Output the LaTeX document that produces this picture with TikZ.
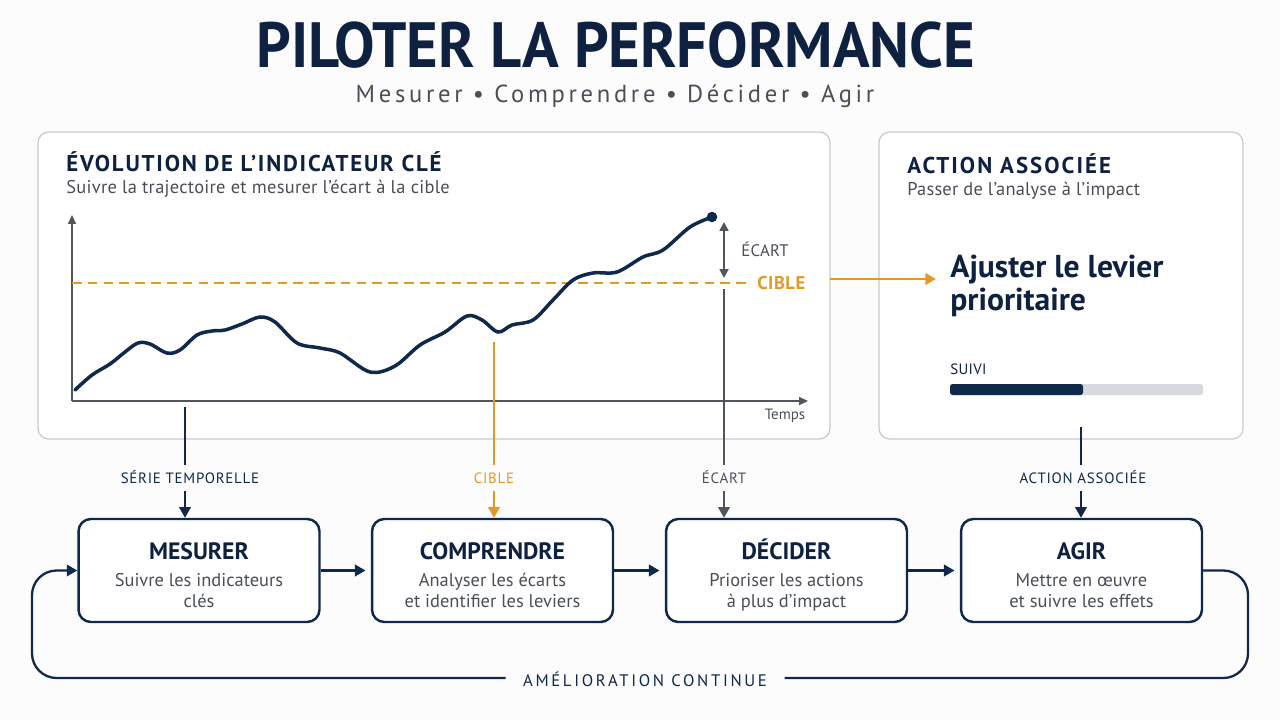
\documentclass[tikz,border=0pt]{standalone}
\usepackage{fontspec}
\setmainfont{PT Sans}
\usepackage{graphicx}
\usetikzlibrary{arrows.meta}
\definecolor{navy}{HTML}{10284A}
\definecolor{ink}{HTML}{0E2140}
\definecolor{txtgray}{HTML}{4A4F57}
\definecolor{axisgray}{HTML}{50565E}
\definecolor{cibleorange}{HTML}{E19A26}
\definecolor{panelline}{HTML}{C6CAD0}
\definecolor{bargray}{HTML}{D6D9DE}
\definecolor{bgwhite}{HTML}{FCFCFD}

\begin{document}
\begin{tikzpicture}[x=0.02cm, y=-0.02cm]
        \tikzstyle{panel} = [draw=panelline, line width=0.7pt, rounded corners=6pt, fill=white, inner sep=0pt, minimum height=6.14cm]
        \tikzstyle{stage} = [draw=navy, line width=1.4pt, rounded corners=7pt, fill=white, minimum width=4.82cm, minimum height=2.06cm, inner sep=0pt]
        \tikzstyle{stagetext} = [align=center, text=txtgray, font=\fontsize{10.5}{11.5}\selectfont]
        \tikzstyle{tag} = [font=\fontsize{8.5}{9}\selectfont\addfontfeature{LetterSpace=5}, inner sep=0pt, outer ysep=4.5pt, text height=6pt, text depth=0pt]
        \tikzstyle{flow} = [draw=navy, line width=1.3pt, -{Triangle[length=6pt,width=6.5pt]}]
        \newcommand{\stagetitle}[1]{{\fontsize{13.5}{16}\selectfont\bfseries\color{ink}#1}\\[4pt]}

        \fill[bgwhite] (0,0) rectangle (1280,720);
        \useasboundingbox (0,0) rectangle (1280,720);

        \node(title)[text=ink] at (616,45) {\resizebox{409pt}{26pt}{\bfseries PILOTER LA PERFORMANCE}};
        \node(subtitle)[text=txtgray, font=\fontsize{14}{16}\selectfont\addfontfeature{LetterSpace=15}] at (615,96) {Mesurer • Comprendre • Décider • Agir};

        \node(chart panel)[panel, minimum width=15.84cm] at (434,285.5) {};
        \node(chart title)[anchor=west, text=ink, font=\fontsize{13}{15}\selectfont\bfseries\addfontfeature{LetterSpace=8}, inner sep=0pt] at (66,162) {ÉVOLUTION DE L’INDICATEUR CLÉ};
        \node(chart sub)[anchor=west, text=txtgray, font=\fontsize{10.5}{12}\selectfont\addfontfeature{LetterSpace=1.5}, inner sep=0pt] at (66,189) {Suivre la trajectoire et mesurer l’écart à la cible};

        \coordinate(origin) at (72,401);
        \coordinate(ytop) at (72,215);
        \coordinate(xend) at (808,401);
        \draw[axisgray, line width=0.9pt, -{Triangle[length=5pt,width=4.5pt]}] (origin) -- (ytop);
        \draw[axisgray, line width=0.9pt, -{Triangle[length=5pt,width=4.5pt]}] (origin) -- (xend);
        \node(temps)[text=txtgray, font=\fontsize{8.5}{10}\selectfont] at (785,416) {Temps};

        \coordinate(cible start) at (72,283);
        \node(cible)[anchor=west, text=cibleorange, font=\fontsize{10.5}{12}\selectfont\bfseries\addfontfeature{LetterSpace=3}, inner sep=0pt] at (757,283) {CIBLE};
        \draw[cibleorange, line width=1.3pt, dash pattern=on 5.5pt off 3.5pt] (cible start) -- (748,283);

        \draw[navy, line width=2pt, line cap=round] plot[smooth, tension=0.55] coordinates {
            (75,390) (92,375) (110,364) (125,352) (138,343) (150,344) (167,353) (180,350)
            (197,335) (212,331) (225,330) (242,324) (260,317) (275,322) (297,343) (320,348)
            (340,353) (370,372) (395,366) (420,345) (445,332) (467,316) (482,320) (498,332)
            (512,325) (533,320) (553,300) (573,280) (593,273) (617,272) (643,257) (663,250)
            (690,227) (712,217)};
        \node(last)[circle, fill=navy, inner sep=0pt, minimum size=6pt] at (712,217) {};

        \coordinate(ecart top) at (724,222);
        \coordinate(ecart bot) at (724,278);
        \draw[axisgray, line width=1.1pt, {Triangle[length=5pt,width=5pt]}-{Triangle[length=5pt,width=5pt]}] (ecart top) -- (ecart bot);
        \node(ecart)[anchor=west, text=txtgray, font=\fontsize{9.5}{11}\selectfont\addfontfeature{LetterSpace=2}, inner sep=0pt] at (741,249) {ÉCART};

        \node(action panel)[panel, minimum width=7.28cm] at (1061,285.5) {};
        \node(action title)[anchor=west, text=ink, font=\fontsize{13}{15}\selectfont\bfseries\addfontfeature{LetterSpace=9}, inner sep=0pt] at (907,164) {ACTION ASSOCIÉE};
        \node(action sub)[anchor=west, text=txtgray, font=\fontsize{10.5}{12}\selectfont\addfontfeature{LetterSpace=1}, inner sep=0pt] at (907,191) {Passer de l’analyse à l’impact};
        \node(levier)[anchor=west, align=left, text=ink, font=\fontsize{18}{19}\selectfont\bfseries, inner sep=0pt] at (950,286) {Ajuster le levier\\prioritaire};
        \node(suivi)[anchor=west, text=ink, font=\fontsize{8.5}{10}\selectfont\addfontfeature{LetterSpace=2}, inner sep=0pt] at (950,369) {SUIVI};
        \fill[bargray, rounded corners=1.5pt] (950,384) rectangle (1203,395);
        \fill[navy, rounded corners=1.5pt] (950,384) rectangle (1083,395);

        \coordinate(cible out) at (830,279);
        \draw[cibleorange, line width=1.3pt, -{Triangle[length=6pt,width=6.5pt]}, shorten >=8pt] (cible out) -- (levier.west |- cible out);

        \node(mesurer)[stage] at (199,570.5) {};
        \node(mesurer txt)[stagetext] at (199,575) {\stagetitle{MESURER}Suivre les indicateurs\\clés};
        \node(comprendre)[stage] at (492.5,570.5) {};
        \node(comprendre txt)[stagetext] at (492.5,575) {\stagetitle{COMPRENDRE}Analyser les écarts\\et identifier les leviers};
        \node(decider)[stage] at (786.5,570.5) {};
        \node(decider txt)[stagetext] at (786.5,575) {\stagetitle{DÉCIDER}Prioriser les actions\\à plus d’impact};
        \node(agir)[stage] at (1081.5,570.5) {};
        \node(agir txt)[stagetext] at (1081.5,575) {\stagetitle{AGIR}Mettre en œuvre\\et suivre les effets};
        \draw[flow, shorten >=3pt] (mesurer) -- (comprendre);
        \draw[flow, shorten >=3pt] (comprendre) -- (decider);
        \draw[flow, shorten >=3pt] (decider) -- (agir);

        \coordinate(serie top) at (185,407);
        \node(serie)[tag, text=navy] at (190,478) {SÉRIE TEMPORELLE};
        \draw[navy, line width=1.2pt] (serie top) -- (serie top |- serie.north);
        \draw[flow, line width=1.2pt] (serie top |- serie.south) -- (serie top |- mesurer.north);

        \coordinate(cible top) at (494,342);
        \node(cible tag)[tag, text=cibleorange] at (494,478) {CIBLE};
        \draw[cibleorange, line width=1.2pt] (cible top) -- (cible tag);
        \draw[cibleorange, line width=1.2pt, -{Triangle[length=6pt,width=6.5pt]}] (cible tag) -- (cible tag |- comprendre.north);

        \coordinate(ecart low) at (724,289);
        \node(ecart tag)[tag, text=txtgray] at (724,478) {ÉCART};
        \draw[axisgray, line width=1.2pt] (ecart low) -- (ecart tag);
        \draw[axisgray, line width=1.2pt, -{Triangle[length=6pt,width=6.5pt]}] (ecart tag) -- (ecart tag |- decider.north);

        \coordinate(action low) at (1081,427);
        \node(action tag)[tag, text=navy] at (1083,478) {ACTION ASSOCIÉE};
        \draw[navy, line width=1.2pt] (action low) -- (action low |- action tag.north);
        \draw[flow, line width=1.2pt] (action low |- action tag.south) -- (action low |- agir.north);

        \node(boucle)[text=navy, font=\fontsize{9.5}{11}\selectfont\addfontfeature{LetterSpace=16}, inner sep=0pt, outer xsep=10pt] at (645,679) {AMÉLIORATION CONTINUE};
        \draw[navy, line width=1.3pt, rounded corners=14pt] (agir.east) -- (1248,570.5) -- (1248,678) -- (boucle.east |- 0,678);
        \draw[flow, rounded corners=14pt] (boucle.west |- 0,678) -- (32,678) -- (32,570.5) -- (mesurer.west);
\end{tikzpicture}
\end{document}
